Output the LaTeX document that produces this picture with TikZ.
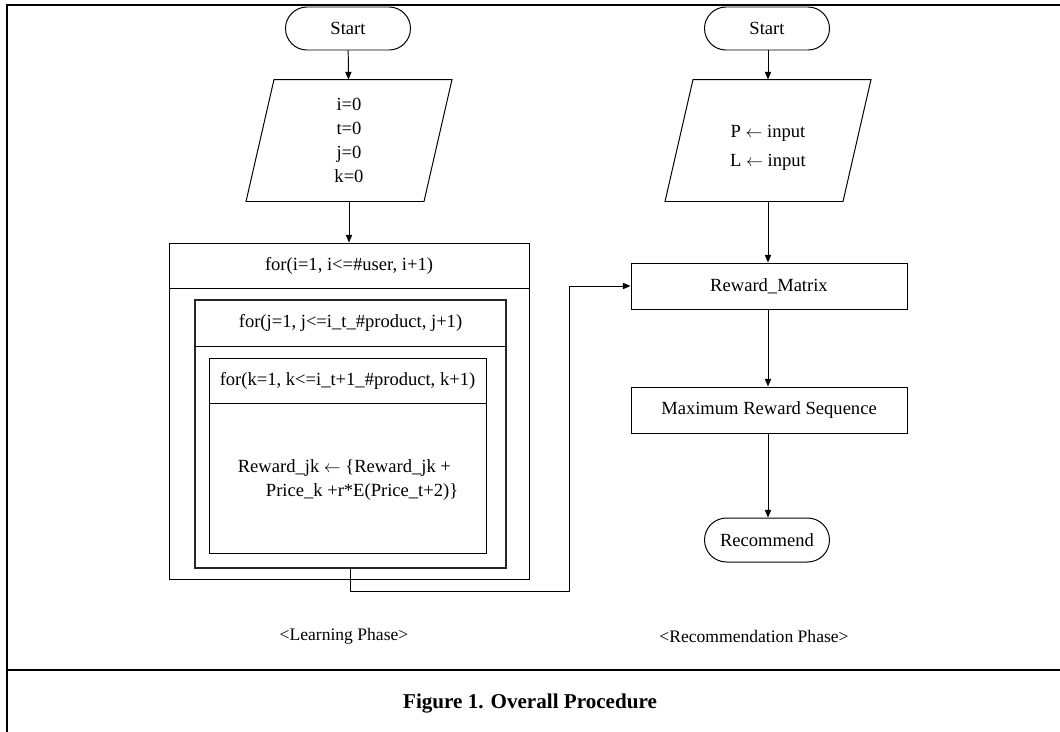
\documentclass[tikz,border=0pt]{standalone}
\usepackage{fontspec}
\setmainfont{Liberation Serif}
\usetikzlibrary{arrows.meta,shapes.misc}
\newlength\pxu
\setlength\pxu{0.025cm}
\begin{document}
\begin{tikzpicture}[x=0.025cm,y=-0.025cm,
  font=\fontsize{13.2}{17}\selectfont,
  line width=0.7pt,
  arr/.style={-{Triangle[length=5.5pt,width=4.5pt]}},
  term/.style={draw,rounded rectangle,minimum width=125\pxu,minimum height=43\pxu,inner sep=0pt},
  proc/.style={draw,rectangle,minimum width=276\pxu,minimum height=46\pxu,inner sep=0pt},
  iotext/.style={minimum width=177\pxu,minimum height=121\pxu,inner sep=0pt,align=center},
  loopbox/.style={draw,rectangle,inner sep=0pt},
  frameline/.style={line width=1.5pt},
  phase/.style={font=\fontsize{12.5}{15}\selectfont},
]
\useasboundingbox (0,0) rectangle (1060,731);

% outer frame
\draw[frameline] (7,745) -- (7,5) -- (1075,5);
\draw[frameline] (7,670) -- (1075,670);

% ---- learning phase ----
\node[term] (start1) at (348,28.5) {Start};
\node[iotext] (init1) at (349,140.5) {i=0\\t=0\\j=0\\k=0};
\draw ([xshift=14\pxu]init1.north west) -- ([xshift=14\pxu]init1.north east)
   -- ([xshift=-14\pxu]init1.south east) -- ([xshift=-14\pxu]init1.south west) -- cycle;

\node[loopbox,minimum width=360\pxu,minimum height=336\pxu] (outer) at (349,411) {};
\draw ([yshift=-46\pxu]outer.north west) -- ([yshift=-46\pxu]outer.north east);
\node (hdri) at ([yshift=-23\pxu]outer.north) {for(i=1, i<=\#user, i+1)};

\node[loopbox,minimum width=311\pxu,minimum height=268\pxu,line width=0.8pt,draw=black!85] (mid) at (350.5,434) {};
\draw ([yshift=-47\pxu]mid.north west) -- ([yshift=-47\pxu]mid.north east);
\node (hdrj) at ([yshift=-23.5\pxu]mid.north) {for(j=1, j<=i\_t\_\#product, j+1)};

\node[loopbox,minimum width=277\pxu,minimum height=195\pxu] (inner) at (347.5,455.5) {};
\draw ([yshift=-46\pxu]inner.north west) -- ([yshift=-46\pxu]inner.north east);
\node (hdrk) at ([yshift=-23\pxu]inner.north) {for(k=1, k<=i\_t+1\_\#product, k+1)};
\node[align=left] (body) at (348,480) {Reward\_jk $\leftarrow$ \{Reward\_jk +\\\hspace*{20pt}Price\_k +r*E(Price\_t+2)\}};

\draw[arr] (start1) -- (init1);
\draw[arr] (init1.south) -- (init1.south |- outer.north);

% ---- recommendation phase ----
\node[term] (start2) at (767,28.5) {Start};
\node[iotext] (init2) at (768,140.5) {};
\node[align=center] (init2txt) at (768,148) {P $\leftarrow$ input\\[4pt]L $\leftarrow$ input};
\draw ([xshift=14\pxu]init2.north west) -- ([xshift=14\pxu]init2.north east)
   -- ([xshift=-14\pxu]init2.south east) -- ([xshift=-14\pxu]init2.south west) -- cycle;
\node[proc] (reward) at (769,286) {Reward\_Matrix};
\node[proc] (maxseq) at (769,410) {Maximum Reward Sequence};
\node[term,minimum height=44\pxu] (recommend) at (767,540) {Recommend};

\draw[arr] (start2.south -| init2.north) -- (init2.north);
\draw[arr] (init2.south) -- (init2.south |- reward.north);
\draw[arr] (init2.south |- reward.south) -- (init2.south |- maxseq.north);
\draw[arr] (init2.south |- maxseq.south) -- (init2.south |- recommend.north);

% loop result feeds the reward matrix
\coordinate (jog) at (569,591);
\draw[arr] (mid.south) |- (jog) |- (reward.west);

% labels
\node[phase] (lp) at (344,636) {<Learning Phase>};
\node[phase] (rp) at (754,636) {<Recommendation Phase>};
\node[font=\bfseries\fontsize{15}{18}\selectfont] (cap) at (530,704) {Figure 1. Overall Procedure};
\end{tikzpicture}
\end{document}
